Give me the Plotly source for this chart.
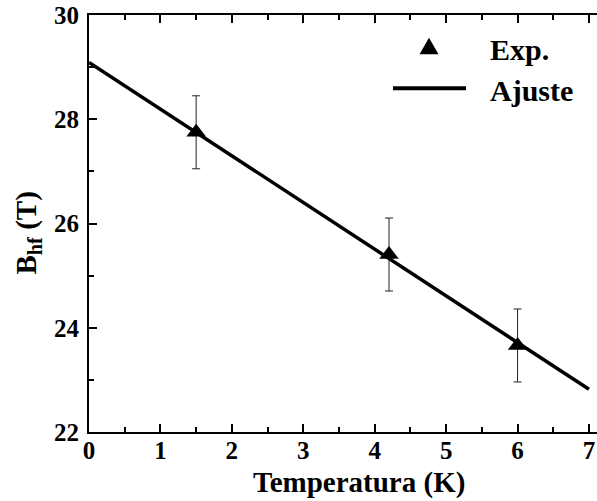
import plotly.graph_objects as go

# Measured hyperfine field vs temperature
temp_k = [1.5, 4.2, 6.0]
bhf_t = [27.75, 25.405, 23.66]
bhf_err = [0.7, 0.7, 0.7]

# Linear fit evaluated at the ends of the temperature span
fit_temp = [0.0, 7.0]
fit_bhf = [29.09, 22.82]

x_ticks = [0, 1, 2, 3, 4, 5, 6, 7]
y_ticks = [22, 24, 26, 28, 30]

W, H = 597, 501
L, R, T, B = 89, 597, 15, 432
FONT = "Liberation Serif, Times New Roman, serif"


def fx(p):
    return (p - L) / (R - L)


def fy(p):
    return (B - p) / (B - T)


fig = go.Figure()

fig.add_trace(go.Scatter(
    x=fit_temp, y=fit_bhf, mode="lines",
    line=dict(color="black", width=3.5),
    name="Ajuste", showlegend=False,
))

fig.add_trace(go.Scatter(
    x=temp_k, y=bhf_t, mode="markers",
    marker=dict(symbol="triangle-up", size=17, color="black"),
    error_y=dict(type="data", array=bhf_err, visible=True,
                 color="#222222", thickness=1, width=4),
    name="Exp.", showlegend=False,
))

axis_common = dict(
    showline=True, linewidth=2, linecolor="black",
    ticks="inside", ticklen=8, tickwidth=2, tickcolor="black",
    showgrid=False, zeroline=False,
    tickfont=dict(family=FONT, size=25, color="black", weight="bold"),
)

fig.update_layout(
    width=W, height=H,
    margin=dict(l=L, r=W - R, t=T, b=H - B),
    paper_bgcolor="white", plot_bgcolor="white",
    showlegend=False,
    xaxis=dict(
        range=[0, 7.112], tickmode="array", tickvals=x_ticks,
        mirror="ticks", ticklabelstandoff=-5,
        minor=dict(ticks="inside", ticklen=5, tickwidth=2,
                   tickcolor="black", dtick=0.5, tick0=0),
        **axis_common,
    ),
    yaxis=dict(
        range=[22, 30], tickmode="array", tickvals=y_ticks,
        mirror=False, ticklabelstandoff=3,
        minor=dict(ticks="inside", ticklen=5, tickwidth=2,
                   tickcolor="black", dtick=1, tick0=22),
        **axis_common,
    ),
    yaxis2=dict(
        overlaying="y", side="right", anchor="x",
        range=[22, 30], tickmode="array", tickvals=y_ticks,
        ticks="inside", ticklen=3, tickwidth=2, tickcolor="black",
        showticklabels=False, showline=False, showgrid=False,
        zeroline=False,
    ),
)

# Axis titles
fig.add_annotation(
    text="Temperatura (K)", xref="paper", yref="paper",
    x=fx(359), y=fy(483), xanchor="center", yanchor="middle",
    showarrow=False,
    font=dict(family=FONT, size=29, color="black", weight="bold"),
)
fig.add_annotation(
    text="B<sub>hf</sub> (T)", xref="paper", yref="paper",
    x=fx(27), y=fy(233.5), xanchor="center", yanchor="middle",
    textangle=-90, showarrow=False,
    font=dict(family=FONT, size=29, color="black", weight="bold"),
)

# Legend
legend_font = dict(family=FONT, size=30, color="black", weight="bold")
fig.add_shape(
    type="path", xref="paper", yref="paper",
    xsizemode="pixel", ysizemode="pixel",
    xanchor=fx(429), yanchor=fy(46),
    path="M-9.5,-8.3 L9.5,-8.3 L0,8.3 Z",
    fillcolor="black", line=dict(width=0),
)
fig.add_annotation(
    text="Exp.", xref="paper", yref="paper",
    x=fx(488), y=fy(49.2), xanchor="left", yanchor="middle",
    showarrow=False, font=legend_font,
)
fig.add_shape(
    type="line", xref="paper", yref="paper",
    x0=fx(393), x1=fx(466), y0=fy(88.3), y1=fy(88.3),
    line=dict(color="black", width=4),
)
fig.add_annotation(
    text="Ajuste", xref="paper", yref="paper",
    x=fx(488), y=fy(90), xanchor="left", yanchor="middle",
    showarrow=False, font=legend_font,
)

fig.write_html("out.html")
